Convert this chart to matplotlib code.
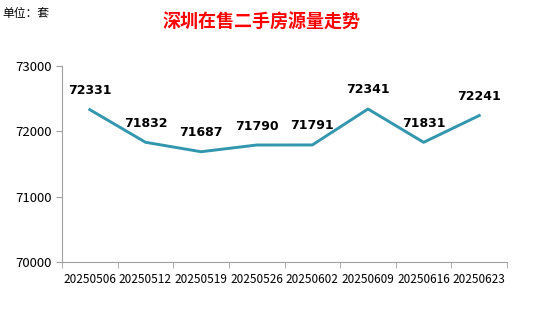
import matplotlib.pyplot as plt

dates = ['20250506', '20250512', '20250519', '20250526',
         '20250602', '20250609', '20250616', '20250623']
listings = [72331, 71832, 71687, 71790, 71791, 72341, 71831, 72241]

plt.rcParams['font.family'] = ['Noto Sans CJK SC', 'DejaVu Sans']

fig = plt.figure(figsize=(5.56, 3.11), dpi=100)
ax = fig.add_axes([0.1115, 0.1576, 0.8005, 0.6304])

x = range(len(dates))
ax.plot(x, listings, color='#3196AE', linewidth=2.1)
for i, v in zip(x, listings):
    ax.annotate(str(v), (i, v), xytext=(0, 9), textcoords='offset points',
                ha='center', va='bottom', fontsize=9, fontweight='bold',
                family=['DejaVu Sans'])

ax.set_xlim(-0.5, len(dates) - 0.5)
ax.set_ylim(70000, 73000)
ax.set_yticks([70000, 71000, 72000, 73000])
ax.set_xticks(x)
ax.set_xticklabels(dates)
# tick marks on category boundaries
ax.set_xticks([i - 0.5 for i in range(len(dates) + 1)], minor=True)
ax.tick_params(axis='x', which='major', length=0, pad=8, labelsize=8.5)
ax.tick_params(axis='x', which='minor', length=4, color='#A0A0A0')
ax.tick_params(axis='y', length=4, color='#A0A0A0', labelsize=9.5)

for s in ['top', 'right']:
    ax.spines[s].set_visible(False)
for s in ['left', 'bottom']:
    ax.spines[s].set_color('#A0A0A0')

fig.text(0.47, 0.93, '深圳在售二手房源量走势', color='red', fontsize=13,
         fontweight='bold', ha='center', va='center')
fig.text(0.005, 0.955, '单位：套', fontsize=8.5, ha='left', va='center')

fig.savefig('out.png', dpi=100)
